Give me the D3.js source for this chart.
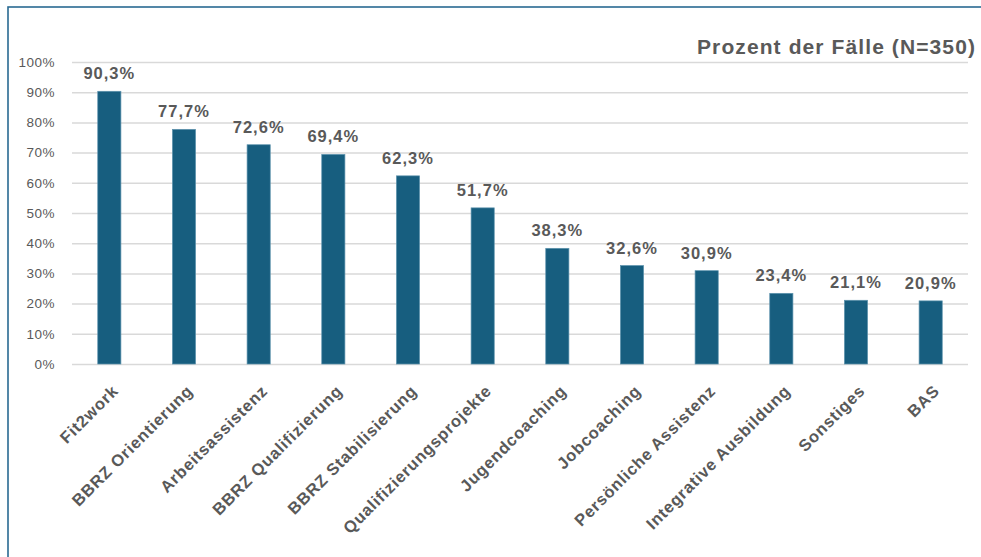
<!DOCTYPE html>
<html><head><meta charset="utf-8">
<script src="https://cdn.jsdelivr.net/npm/d3@7"></script>
<style>html,body{margin:0;padding:0;background:#fff;overflow:hidden}</style>
</head><body>
<svg id="c" width="981" height="557"></svg>
<script>
const categories = ["Fit2work","BBRZ Orientierung","Arbeitsassistenz","BBRZ Qualifizierung","BBRZ Stabilisierung","Qualifizierungsprojekte","Jugendcoaching","Jobcoaching","Persönliche Assistenz","Integrative Ausbildung","Sonstiges","BAS"];
const values = [90.3,77.7,72.6,69.4,62.3,51.7,38.3,32.6,30.9,23.4,21.1,20.9];
const yTicks = [0,10,20,30,40,50,60,70,80,90,100];
const title = "Prozent der Fälle (N=350)";

const svg = d3.select("#c");
const font = "'Liberation Sans', Arial, sans-serif";
const grey = "#595959";

// frame
svg.append("rect").attr("x",8).attr("y",7).attr("width",1000).attr("height",600)
  .attr("fill","none").attr("stroke","#2a6a92").attr("stroke-width",1.6);

const m = {left:72, right:968, top:62, bottom:364};
const x = d3.scaleBand().domain(categories).range([m.left,m.right]).paddingInner(0.69).paddingOuter(0.345);
const y = d3.scaleLinear().domain([0,100]).range([m.bottom,m.top]);

// grid
const yAxis = d3.axisLeft(y).tickValues(yTicks).tickFormat(d=>d+"%").tickSize(-(m.right-m.left)).tickPadding(17);
const ga = svg.append("g").attr("transform",`translate(${m.left},0)`).call(yAxis);
ga.select(".domain").remove();
ga.selectAll(".tick line").attr("stroke","#d9d9d9").attr("stroke-width",1.5);
ga.selectAll(".tick text").attr("fill",grey).attr("font-family",font).attr("font-size",13.5)
  .attr("letter-spacing",0.5);

// bars
svg.append("g").selectAll("rect").data(values).join("rect")
  .attr("x",(d,i)=>x(categories[i]))
  .attr("y",d=>y(d))
  .attr("width",x.bandwidth())
  .attr("height",d=>y(0)-y(d))
  .attr("fill","#175e7f").attr("stroke","#5d93ad").attr("stroke-width",0.7);

// value labels
svg.append("g").selectAll("text").data(values).join("text")
  .attr("x",(d,i)=>x(categories[i])+x.bandwidth()/2)
  .attr("y",d=>y(d)-12)
  .attr("text-anchor","middle")
  .attr("font-family",font).attr("font-weight","bold").attr("font-size",16.5)
  .attr("letter-spacing",1)
  .attr("fill",grey)
  .text(d=>d.toFixed(1).replace(".",",")+"%");

// x labels
const xAxis = d3.axisBottom(x).tickSize(0).tickPadding(0);
const gx = svg.append("g").attr("transform",`translate(0,${m.bottom})`).call(xAxis);
gx.select(".domain").remove();
gx.selectAll(".tick text")
  .attr("font-family",font).attr("font-weight","bold").attr("font-size",16.5)
  .attr("letter-spacing",0.8)
  .attr("fill",grey).attr("text-anchor","end")
  .attr("dy",0).attr("y",0)
  .attr("transform","translate(10,28) rotate(-45)");

// title
svg.append("text").attr("x",976).attr("y",54).attr("text-anchor","end")
  .attr("font-family",font).attr("font-weight","bold").attr("font-size",21)
  .attr("letter-spacing",1.1)
  .attr("fill",grey).text(title);
</script>
</body></html>
